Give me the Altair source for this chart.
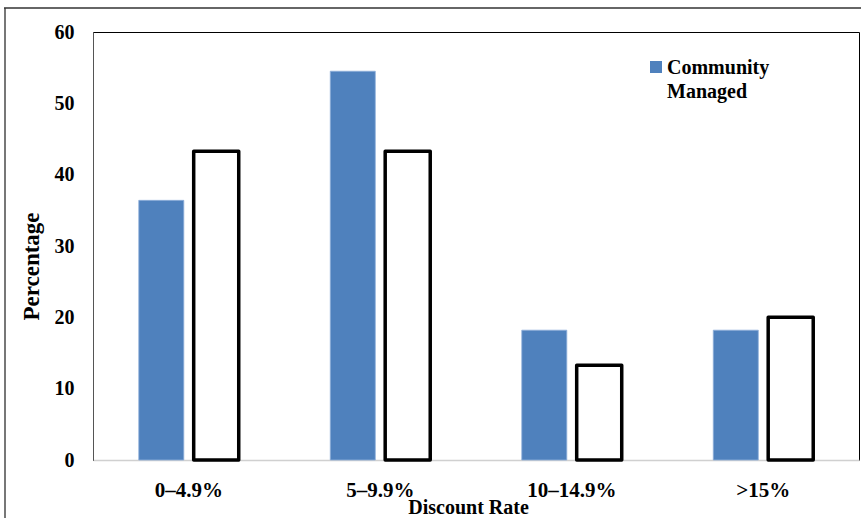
import altair as alt
import pandas as pd

# Share of respondents by discount rate band
rates = ["0–4.9%", "5–9.9%", "10–14.9%", ">15%"]
community = [36.4, 54.5, 18.2, 18.2]
other = [43.3, 43.3, 13.3, 20.0]
series = ["Community Managed", "Other"]
y_ticks = [0, 10, 20, 30, 40, 50, 60]

rows = []
for r, c, o in zip(rates, community, other):
    rows.append({"rate": r, "series": series[0], "pct": c})
    rows.append({"rate": r, "series": series[1], "pct": o})
df = pd.DataFrame(rows)

FONT = "Liberation Serif"
BLUE = "#4f81bd"

x_enc = alt.X(
    "rate:N",
    sort=rates,
    title="Discount Rate",
    scale=alt.Scale(paddingInner=0.478, paddingOuter=0.239),
    axis=alt.Axis(
        labelAngle=0,
        ticks=False,
        domainColor="#d0d0d0",
        domainWidth=1.5,
        labelFont=FONT,
        labelFontSize=21,
        labelFontWeight="bold",
        labelColor="#000",
        labelPadding=19,
        titleFont=FONT,
        titleFontSize=20,
        titleFontWeight="bold",
        titleColor="#000",
        titleBaseline="alphabetic",
        titleY=53,
        titleX=375,
    ),
)
xoff_enc = alt.XOffset(
    "series:N", sort=series, scale=alt.Scale(paddingInner=0.18, paddingOuter=0)
)
y_enc = alt.Y(
    "pct:Q",
    title="Percentage",
    scale=alt.Scale(domain=[0, 60], nice=False),
    axis=alt.Axis(
        values=y_ticks,
        grid=False,
        ticks=False,
        domainColor="#555",
        labelFont=FONT,
        labelFontSize=20,
        labelFontWeight="bold",
        labelColor="#000",
        labelPadding=19,
        titleFont=FONT,
        titleFontSize=23,
        titleFontWeight="bold",
        titleColor="#000",
        titleAngle=270,
        titleAlign="center",
        titleBaseline="alphabetic",
        titleX=-55,
        titleY=234,
    ),
)

base = alt.Chart(df)

filled = base.transform_filter(alt.datum.series == series[0]).mark_bar(
    stroke="#8fb0da", strokeWidth=0.8
).encode(
    x=x_enc,
    xOffset=xoff_enc,
    y=y_enc,
    fill=alt.Fill(
        "series:N",
        scale=alt.Scale(domain=[series[0]], range=[BLUE]),
        legend=None,
    ),
)

outlined = base.transform_filter(alt.datum.series == series[1]).mark_bar(
    fill="white", stroke="black", strokeWidth=3.5, strokeJoin="round"
).encode(x=x_enc, xOffset=xoff_enc, y=y_enc)

# Legend entry for the filled series, drawn as a swatch and a two-line label
legend_data = alt.Data(values=[{"label": series[0].split(" ")}])
legend_swatch = alt.Chart(legend_data).mark_square(
    size=144, color=BLUE, opacity=1
).encode(x=alt.value(563), y=alt.value(35))
legend_text = alt.Chart(legend_data).mark_text(
    font=FONT,
    fontSize=20,
    fontWeight="bold",
    color="#000",
    align="left",
    baseline="alphabetic",
    lineHeight=24,
).encode(x=alt.value(574), y=alt.value(42), text="label:N")

# Outer frame around the figure
frame_data = alt.Data(values=[{}])
frame_left = alt.Chart(frame_data).mark_rule(color="#777", strokeWidth=2).encode(
    x=alt.value(-88), y=alt.value(-24), y2=alt.value(490)
)
frame_top = alt.Chart(frame_data).mark_rule(color="#333", strokeWidth=1.5).encode(
    x=alt.value(-89), x2=alt.value(775), y=alt.value(-24)
)

chart = (
    alt.layer(filled, outlined, legend_swatch, legend_text, frame_left, frame_top)
    .properties(
        width=766,
        height=428,
        autosize=alt.AutoSizeParams(type="none"),
        padding={"left": 93, "top": 32, "right": 2, "bottom": 58},
        background="white",
    )
    .configure_view(stroke="#000", strokeWidth=1)
)

chart.save("out.html", embed_options={"renderer": "svg", "actions": False})
